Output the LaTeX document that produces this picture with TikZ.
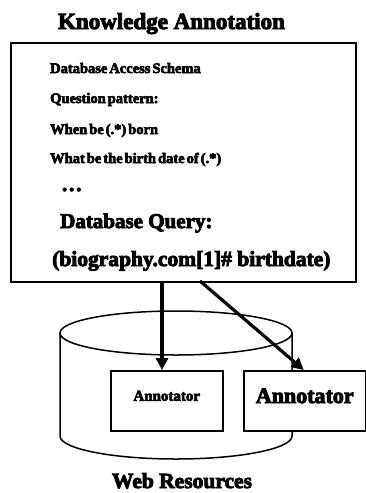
\documentclass[tikz,border=0pt]{standalone}
\usepackage{fontspec}
\setmainfont{Liberation Serif}[BoldFeatures={FakeBold=4}]
\newfontfamily\tightfont{Liberation Serif}[BoldFeatures={FakeBold=4}, WordSpace=0.55]
\usetikzlibrary{arrows.meta}
\tikzset{
  frame/.style={draw=black, line width=1.8pt},
  txt/.style={anchor=base west, inner sep=0pt, font=\tightfont\bfseries\fontsize{14.5}{16}\selectfont},
  bigtxt/.style={anchor=base west, inner sep=0pt, font=\bfseries\fontsize{21}{24}\selectfont},
  annbox/.style={draw=black, fill=white, line width=1.5pt, inner sep=0pt},
  conn/.style={line width=3.2pt, -{Triangle[length=12pt,width=12pt]}},
  cyl/.style={draw=black, line width=1.5pt}
}
\begin{document}
\begin{tikzpicture}[x=1pt,y=-1pt]
\useasboundingbox (0,0) rectangle (366,493);
% title
\node[anchor=base, inner sep=0pt, font=\bfseries\fontsize{23}{25}\selectfont] (title) at (171.5,29) {Knowledge Annotation};
% main box
\node[frame, anchor=north west, minimum width=345pt, minimum height=239pt, inner sep=0pt] (kb) at (10,42) {};
\node[txt] (l1) at (50,73) {Database Access Schema};
\node[txt] (l2) at (50,103) {Question pattern:};
\node[txt] (l3) at (50,134) {When be (.*) born};
\node[txt] (l4) at (50,163) {What be the birth date of (.*)};
\node[bigtxt] (l5) at (61,191) {\dots};
\node[bigtxt] (l6) at (60,228) {Database Query:};
\node[bigtxt, font=\bfseries\fontsize{21.5}{24}\selectfont] (l7) at (52,266) {(biography.com[1]\# birthdate)};
% cylinder
\draw[cyl] (176,333) ellipse [x radius=116pt, y radius=22pt];
\draw[cyl] (60,333) -- (60,436) arc[start angle=180, end angle=360, x radius=116pt, y radius=23pt] -- (292,333);
% annotators
\node[annbox, anchor=north west, minimum width=112pt, minimum height=60pt, text depth=10pt, font=\bfseries\fontsize{15}{17}\selectfont] (a1) at (110,370) {Annotator};
\node[annbox, anchor=north west, minimum width=122pt, minimum height=60pt, text depth=10pt, font=\bfseries\fontsize{22}{24}\selectfont] (a2) at (243,370) {Annotator};
% connectors
\coordinate (s1) at (162,281);
\coordinate (s2) at (200,281);
\draw[conn] (s1) -- (s1 |- a1.north);
\draw[conn] (s2) -- ([xshift=-1pt]a2.north);
% footer
\node[anchor=base, inner sep=0pt, font=\bfseries\fontsize{21.5}{24}\selectfont] (web) at (182,488) {Web Resources};
\end{tikzpicture}
\end{document}
